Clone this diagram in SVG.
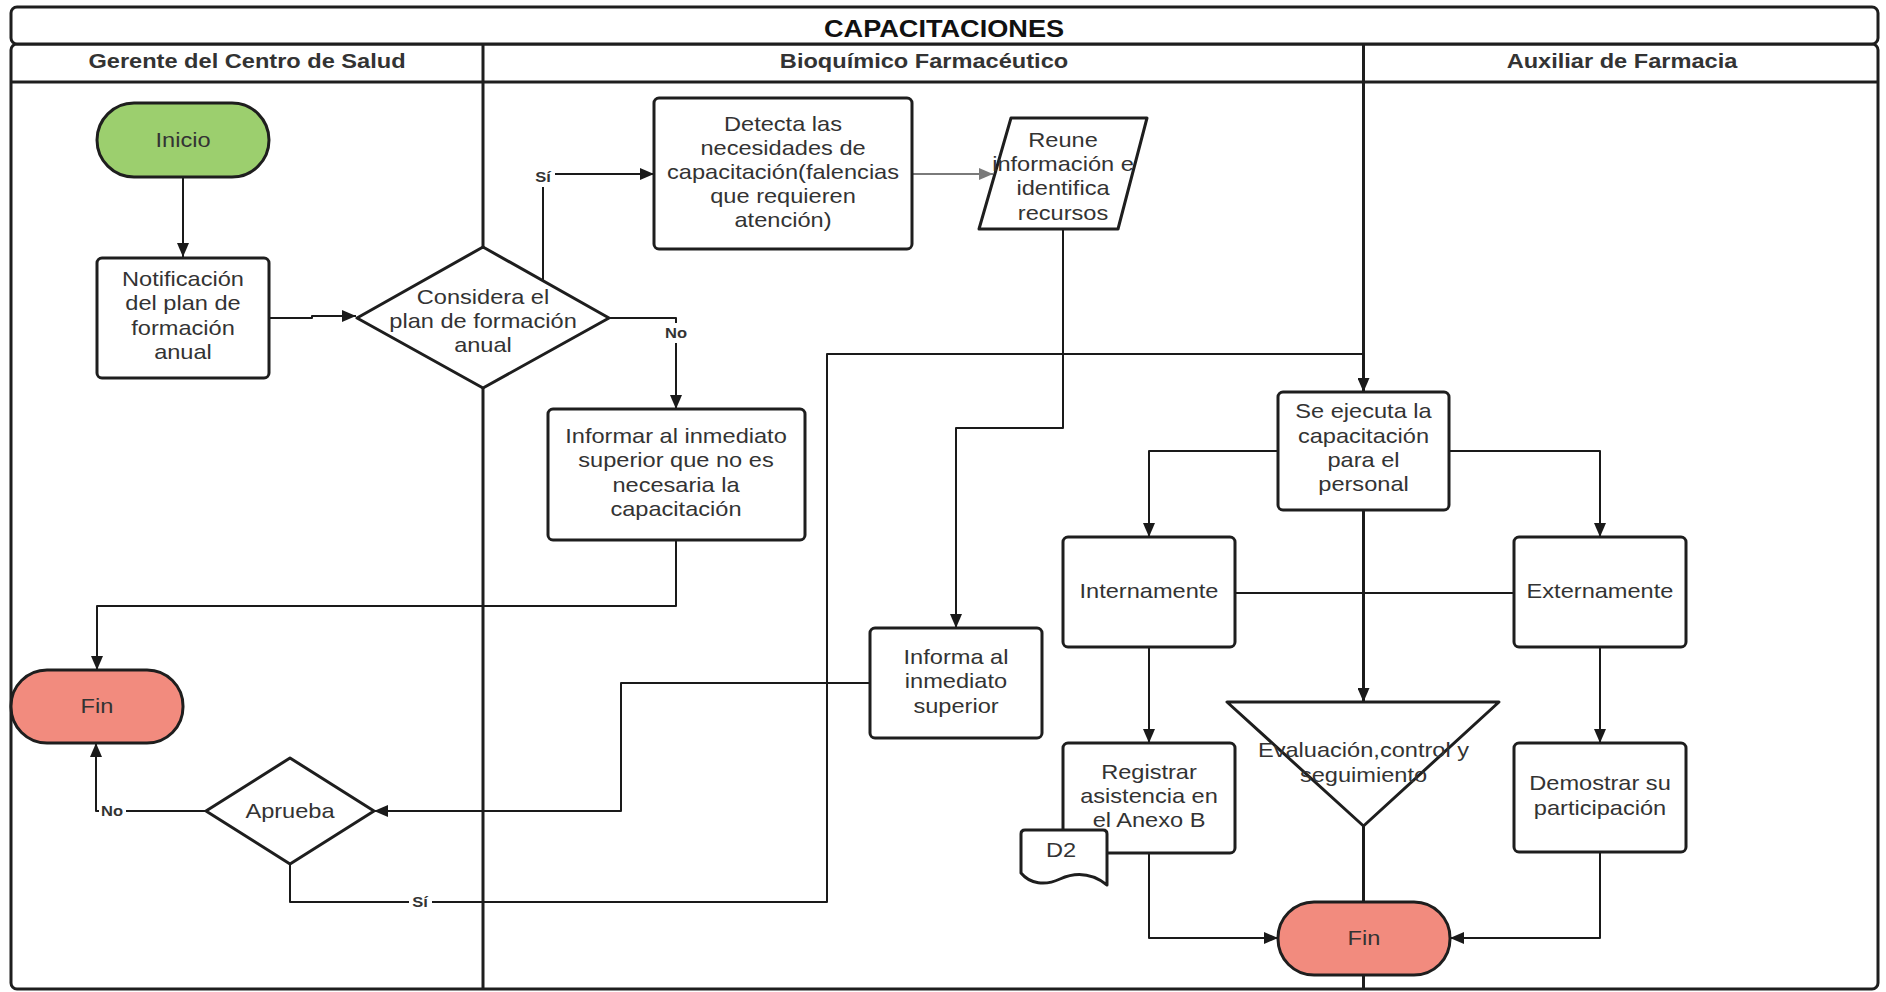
<svg xmlns="http://www.w3.org/2000/svg" width="1886" height="992" viewBox="0 0 1886 992">
  <defs>
    <style>
      .frame { fill: #ffffff; stroke: #1e1e1e; stroke-width: 3; }
      .lane { fill: none; stroke: #1e1e1e; stroke-width: 3; }
      .node { fill: #ffffff; stroke: #1e1e1e; stroke-width: 3; stroke-linejoin: round; }
      .start { fill: #9ccf6e; stroke: #1e1e1e; stroke-width: 3; }
      .end { fill: #f28b7e; stroke: #1e1e1e; stroke-width: 3; }
      .edge { fill: none; stroke: #1a1a1a; stroke-width: 2; stroke-linejoin: round; }
      .edge-gray { fill: none; stroke: #7a7a7a; stroke-width: 2; }
      .t { font-family: "Liberation Sans", Arial, sans-serif; font-size: 20px; fill: #333333; text-anchor: middle; }
      .hdr { font-family: "Liberation Sans", Arial, sans-serif; font-size: 20px; font-weight: bold; fill: #333333; text-anchor: middle; }
      .title { font-family: "Liberation Sans", Arial, sans-serif; font-size: 23px; font-weight: bold; fill: #111111; text-anchor: middle; }
      .lbl { font-family: "Liberation Sans", Arial, sans-serif; font-size: 14px; font-weight: bold; fill: #333333; text-anchor: middle; }
      .lblbg { fill: #ffffff; }
    </style>
    <marker id="arr" viewBox="0 0 14 12" refX="14" refY="6" markerWidth="14" markerHeight="12" markerUnits="userSpaceOnUse" orient="auto">
      <path d="M0,0 L14,6 L0,12 Z" fill="#1a1a1a"/>
    </marker>
    <marker id="arr-gray" viewBox="0 0 14 12" refX="14" refY="6" markerWidth="14" markerHeight="12" markerUnits="userSpaceOnUse" orient="auto">
      <path d="M0,0 L14,6 L0,12 Z" fill="#7a7a7a"/>
    </marker>
  </defs>

  <rect width="1886" height="992" fill="#ffffff"/>

  <!-- pool: title band, lane headers and lane separators -->
  <g id="pool">
    <rect class="frame" x="11" y="44" width="1867" height="945" rx="6"/>
    <rect class="frame" x="11" y="7" width="1867" height="37" rx="6"/>
    <line class="lane" x1="11" y1="82" x2="1878" y2="82"/>
    <line class="lane" x1="483" y1="44" x2="483" y2="989"/>
    <line class="lane" x1="1363.5" y1="44" x2="1363.5" y2="989"/>
    <text class="title" transform="translate(944 0) scale(1.18 1)"><tspan x="0" y="37">CAPACITACIONES</tspan></text>
    <text class="hdr" transform="translate(247 0) scale(1.18 1)"><tspan x="0" y="68">Gerente del Centro de Salud</tspan></text>
    <text class="hdr" transform="translate(924 0) scale(1.18 1)"><tspan x="0" y="68">Bioquímico Farmacéutico</tspan></text>
    <text class="hdr" transform="translate(1622 0) scale(1.18 1)"><tspan x="0" y="68">Auxiliar de Farmacia</tspan></text>
  </g>

  <!-- connectors -->
  <g id="connectors">
    <path class="edge" d="M183,177 V257" marker-end="url(#arr)"/>
    <path class="edge" d="M269,318 H312 V316 H356" marker-end="url(#arr)"/>
    <path class="edge" d="M543,280 V174 H654" marker-end="url(#arr)"/>
    <path class="edge" d="M609,318 H676 V409" marker-end="url(#arr)"/>
    <path class="edge-gray" d="M912,174 H993" marker-end="url(#arr-gray)"/>
    <path class="edge" d="M1063,229 V428 H956 V628" marker-end="url(#arr)"/>
    <path class="edge" d="M676,540 V606 H97 V670" marker-end="url(#arr)"/>
    <path class="edge" d="M870,683 H621 V811 H374" marker-end="url(#arr)"/>
    <path class="edge" d="M206,811 H96 V743" marker-end="url(#arr)"/>
    <path class="edge" d="M290,864 V902 H827 V354 H1363.5 V392" marker-end="url(#arr)"/>
    <path class="edge" d="M1278,451 H1149 V537" marker-end="url(#arr)"/>
    <path class="edge" d="M1449,451 H1600 V537" marker-end="url(#arr)"/>
    <path class="edge" d="M1363.5,510 V702" marker-end="url(#arr)"/>
    <path class="edge" d="M1235,593 H1363.5 M1514,593 H1363.5"/>
    <path class="edge" d="M1149,647 V743" marker-end="url(#arr)"/>
    <path class="edge" d="M1600,647 V743" marker-end="url(#arr)"/>
    <path class="edge" d="M1149,853 V938 H1278" marker-end="url(#arr)"/>
    <path class="edge" d="M1600,852 V938 H1450" marker-end="url(#arr)"/>
    <path class="edge" d="M1363.5,826 V902"/>

    <!-- branch labels -->
    <rect class="lblbg" x="531" y="165" width="24" height="22"/>
    <text class="lbl" transform="translate(543 0) scale(1.18 1)"><tspan x="0" y="182">Sí</tspan></text>
    <rect class="lblbg" x="662" y="323" width="28" height="20"/>
    <text class="lbl" transform="translate(676 0) scale(1.18 1)"><tspan x="0" y="338">No</tspan></text>
    <rect class="lblbg" x="99" y="802" width="27" height="18"/>
    <text class="lbl" transform="translate(112 0) scale(1.18 1)"><tspan x="0" y="816">No</tspan></text>
    <rect class="lblbg" x="409" y="893" width="23" height="18"/>
    <text class="lbl" transform="translate(420 0) scale(1.18 1)"><tspan x="0" y="907">Sí</tspan></text>
  </g>

  <!-- Gerente del Centro de Salud -->
  <g id="inicio">
    <rect class="start" x="97" y="103" width="172" height="74" rx="37"/>
    <text class="t" transform="translate(183 0) scale(1.18 1)"><tspan x="0" y="147">Inicio</tspan></text>
  </g>
  <g id="notificacion">
    <rect class="node" x="97" y="258" width="172" height="120" rx="5"/>
    <text class="t" transform="translate(183 0) scale(1.18 1)"><tspan x="0" y="286">Notificación</tspan><tspan x="0" y="310">del plan de</tspan><tspan x="0" y="335">formación</tspan><tspan x="0" y="359">anual</tspan></text>
  </g>
  <g id="fin-gerente">
    <rect class="end" x="11" y="670" width="172" height="73" rx="36"/>
    <text class="t" transform="translate(97 0) scale(1.18 1)"><tspan x="0" y="713">Fin</tspan></text>
  </g>
  <g id="aprueba">
    <path class="node" d="M290,758 L374,811 L290,864 L206,811 Z"/>
    <text class="t" transform="translate(290 0) scale(1.18 1)"><tspan x="0" y="818">Aprueba</tspan></text>
  </g>

  <!-- Bioquímico Farmacéutico -->
  <g id="considera">
    <path class="node" d="M483,247 L609,318 L483,388 L357,318 Z"/>
    <text class="t" transform="translate(483 0) scale(1.18 1)"><tspan x="0" y="304">Considera el</tspan><tspan x="0" y="328">plan de formación</tspan><tspan x="0" y="352">anual</tspan></text>
  </g>
  <g id="detecta">
    <rect class="node" x="654" y="98" width="258" height="151" rx="5"/>
    <text class="t" transform="translate(783 0) scale(1.18 1)"><tspan x="0" y="131">Detecta las</tspan><tspan x="0" y="155">necesidades de</tspan><tspan x="0" y="179">capacitación(falencias</tspan><tspan x="0" y="203">que requieren</tspan><tspan x="0" y="227">atención)</tspan></text>
  </g>
  <g id="reune">
    <path class="node" d="M1011,118 L1147,118 L1118,229 L979,229 Z"/>
    <text class="t" transform="translate(1063 0) scale(1.18 1)"><tspan x="0" y="147">Reune</tspan><tspan x="0" y="171">información e</tspan><tspan x="0" y="195">identifica</tspan><tspan x="0" y="220">recursos</tspan></text>
  </g>
  <g id="informar-no-necesaria">
    <rect class="node" x="548" y="409" width="257" height="131" rx="5"/>
    <text class="t" transform="translate(676 0) scale(1.18 1)"><tspan x="0" y="443">Informar al inmediato</tspan><tspan x="0" y="467">superior que no es</tspan><tspan x="0" y="492">necesaria la</tspan><tspan x="0" y="516">capacitación</tspan></text>
  </g>
  <g id="informa-superior">
    <rect class="node" x="870" y="628" width="172" height="110" rx="5"/>
    <text class="t" transform="translate(956 0) scale(1.18 1)"><tspan x="0" y="664">Informa al</tspan><tspan x="0" y="688">inmediato</tspan><tspan x="0" y="713">superior</tspan></text>
  </g>
  <g id="internamente">
    <rect class="node" x="1063" y="537" width="172" height="110" rx="5"/>
    <text class="t" transform="translate(1149 0) scale(1.18 1)"><tspan x="0" y="598">Internamente</tspan></text>
  </g>
  <g id="registrar">
    <rect class="node" x="1063" y="743" width="172" height="110" rx="5"/>
    <text class="t" transform="translate(1149 0) scale(1.18 1)"><tspan x="0" y="779">Registrar</tspan><tspan x="0" y="803">asistencia en</tspan><tspan x="0" y="827">el Anexo B</tspan></text>
  </g>
  <g id="documento-d2">
    <path class="node" d="M1025,830 H1103 Q1107,830 1107,834 V885 C1093,874 1078,871 1060,879 C1045,886 1030,884 1021,873 V834 Q1021,830 1025,830 Z"/>
    <text class="t" transform="translate(1061 0) scale(1.18 1)"><tspan x="0" y="857">D2</tspan></text>
  </g>

  <!-- Auxiliar de Farmacia -->
  <g id="se-ejecuta">
    <rect class="node" x="1278" y="392" width="171" height="118" rx="5"/>
    <text class="t" transform="translate(1363.5 0) scale(1.18 1)"><tspan x="0" y="418">Se ejecuta la</tspan><tspan x="0" y="443">capacitación</tspan><tspan x="0" y="467">para el</tspan><tspan x="0" y="491">personal</tspan></text>
  </g>
  <g id="externamente">
    <rect class="node" x="1514" y="537" width="172" height="110" rx="5"/>
    <text class="t" transform="translate(1600 0) scale(1.18 1)"><tspan x="0" y="598">Externamente</tspan></text>
  </g>
  <g id="demostrar">
    <rect class="node" x="1514" y="743" width="172" height="109" rx="5"/>
    <text class="t" transform="translate(1600 0) scale(1.18 1)"><tspan x="0" y="790">Demostrar su</tspan><tspan x="0" y="815">participación</tspan></text>
  </g>
  <g id="evaluacion">
    <path class="node" d="M1227,702 L1499,702 L1363.5,826 Z"/>
    <text class="t" transform="translate(1363.5 0) scale(1.18 1)"><tspan x="0" y="757">Evaluación,control y</tspan><tspan x="0" y="782">seguimiento</tspan></text>
  </g>
  <g id="fin-capacitacion">
    <rect class="end" x="1278" y="902" width="172" height="73" rx="36"/>
    <text class="t" transform="translate(1364 0) scale(1.18 1)"><tspan x="0" y="945">Fin</tspan></text>
  </g>
</svg>
